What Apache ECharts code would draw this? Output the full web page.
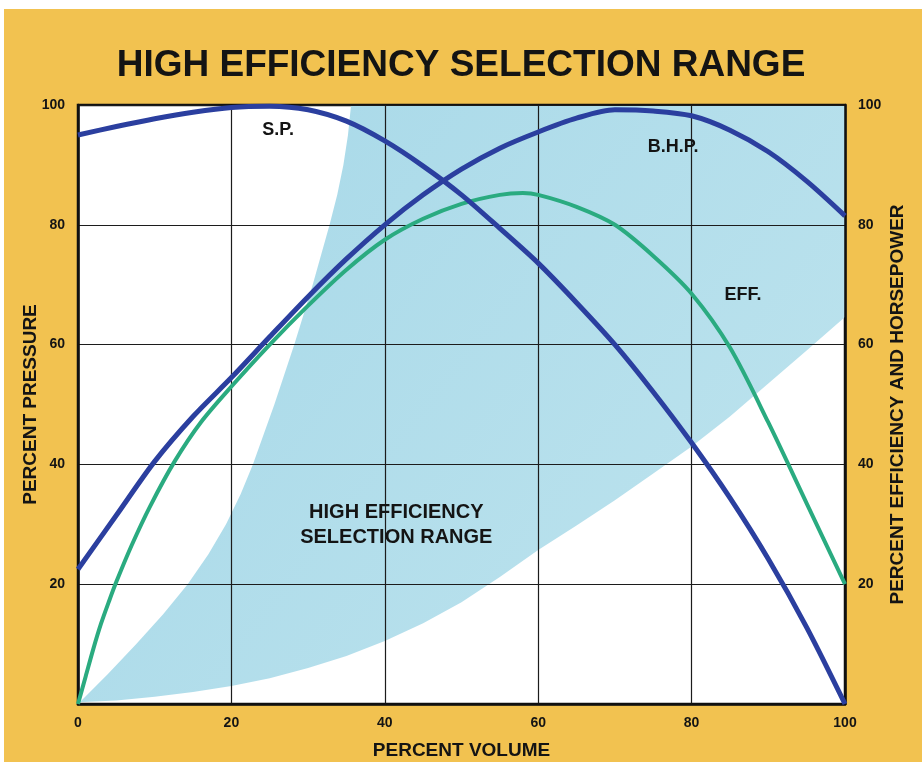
<!DOCTYPE html>
<html style="width:100%;height:100%">
<head>
    <meta charset="UTF-8">
    <title>High Efficiency Selection Range</title>
    <script type="text/javascript" src="https://cdn.jsdelivr.net/npm/echarts@6/dist/echarts.min.js"></script>
</head>
<body style="width:100%;height:100%;margin:0;overflow:hidden">
    <div id="main" style="width:922px;height:762px"></div>

    <script type="text/javascript">
        var myChart = echarts.init(document.getElementById('main'));

        // percent volume vs percent value
        var spData = [[0, 95], [5, 96.4], [10, 97.7], [15, 98.8], [20, 99.6], [25, 99.8], [30, 99.2], [35, 97.3],
            [40, 94], [45, 89.8], [50, 85], [55, 79.4], [60, 73.6], [65, 67], [70, 60], [75, 52.1], [80, 43.6],
            [85, 34.4], [90, 24.2], [95, 12.8], [100, 0]];
        var bhpData = [[0, 22.5], [5, 31.5], [10, 40.5], [15, 48], [20, 54.5], [25, 61.3], [30, 68], [35, 74.3],
            [40, 80], [45, 85], [50, 89.3], [55, 92.8], [60, 95.5], [65, 97.8], [70, 99.2], [75, 99.0], [80, 98.2],
            [85, 95.8], [90, 92.2], [95, 87.3], [100, 81.5]];
        var effData = [[0, 0], [1, 4.6], [2, 9.2], [3, 13.4], [4, 17], [5, 20.4], [7, 26.5], [9.4, 33], [12.6, 40.5],
            [16, 47], [20, 53], [25, 60], [30, 66.5], [35, 72.5], [40, 77.5], [45, 81], [50, 83.5], [55, 85],
            [58, 85.3], [60, 85], [65, 83], [70, 80], [75, 74.8], [80, 68.5], [85, 59.5], [90, 47], [95, 33.5],
            [100, 20]];

        // shaded range: lower edge (volume, value) left to right, left edge (volume, value) top to bottom
        var rangeLower = [[0, 0.3], [5, 0.6], [10, 1.2], [15, 2], [20, 3], [25, 4.3], [30, 6], [35, 8], [40, 10.5],
            [45, 13.5], [50, 17], [55, 21.2], [60, 25.7], [65, 29.8], [70, 34], [75, 38.5], [80, 43], [85, 48],
            [90, 53.5], [95, 59], [100, 64.6]];
        var rangeLeft = [[35.6, 100], [35.2, 95], [34.6, 90], [33.8, 85], [32.8, 80], [31.7, 75], [30.6, 70],
            [29.4, 65], [28.2, 60], [26.9, 55], [25.6, 50], [24.2, 45], [22.8, 40], [21.2, 35], [19.3, 30],
            [17.0, 25], [14.3, 20], [11.1, 15], [7.6, 10], [3.9, 5], [0, 0]];

        var curveLabels = [[26.1, 95.8, 'S.P.'], [77.6, 93, 'B.H.P.'], [86.7, 68.3, 'EFF.']];
        var rangeLabel = [[41.5, 29.9, 'HIGH EFFICIENCY\nSELECTION RANGE']];

        var axisTicks = [0, 20, 40, 60, 80, 100];

        var font = 'Liberation Sans, Arial, sans-serif';
        var ink = '#141414';
        var blue = '#2b3f9f';
        var green = '#2aab80';

        function sideAxis(name, position, gap, showSplit) {
            return {
                type: 'value',
                position: position,
                min: axisTicks[0],
                max: axisTicks[axisTicks.length - 1],
                interval: 20,
                z: 3,
                name: name,
                nameLocation: 'middle',
                nameRotate: 90,
                nameGap: gap,
                nameMoveOverlap: false,
                nameTextStyle: { fontSize: 19, fontWeight: 'bold', color: ink },
                axisLine: { show: true, lineStyle: { color: '#111', width: 2.5 } },
                axisTick: { show: false },
                axisLabel: {
                    margin: 13, fontSize: 14, fontWeight: 'bold', color: ink,
                    formatter: function (v) { return v === 0 ? '' : v; }
                },
                splitLine: { show: showSplit, lineStyle: { color: '#1c1c1c', width: 1.2 } }
            };
        }

        option = {
            backgroundColor: '#f2c250',
            animation: false,
            textStyle: { fontFamily: font },
            title: {
                text: 'HIGH EFFICIENCY SELECTION RANGE',
                left: 'center',
                top: 42,
                textStyle: { fontSize: 37, fontWeight: 'bold', color: ink, fontFamily: font }
            },
            graphic: [
                { type: 'rect', shape: { x: 0, y: 0, width: 922, height: 9 }, style: { fill: '#fff' } },
                { type: 'rect', shape: { x: 0, y: 0, width: 4, height: 762 }, style: { fill: '#fff' } }
            ],
            grid: {
                left: 78,
                right: 77,
                top: 105,
                bottom: 58,
                outerBoundsMode: 'none',
                show: true,
                backgroundColor: '#fff',
                borderColor: '#111',
                borderWidth: 2.5
            },
            xAxis: {
                type: 'value',
                min: axisTicks[0],
                max: axisTicks[axisTicks.length - 1],
                interval: 20,
                z: 3,
                name: 'PERCENT VOLUME',
                nameLocation: 'middle',
                nameGap: 37,
                nameMoveOverlap: false,
                nameTextStyle: { fontSize: 19, fontWeight: 'bold', color: ink },
                axisLine: { show: true, lineStyle: { color: '#111', width: 2.5 } },
                axisTick: { show: false },
                axisLabel: { margin: 12, fontSize: 14, fontWeight: 'bold', color: ink },
                splitLine: { show: true, lineStyle: { color: '#1c1c1c', width: 1.2 } }
            },
            yAxis: [
                sideAxis('PERCENT PRESSURE', 'left', 38, true),
                sideAxis('PERCENT EFFICIENCY AND HORSEPOWER', 'right', 43, false)
            ],
            series: [{
                type: 'custom',
                name: 'range',
                z: 1,
                silent: true,
                data: [0],
                renderItem: function (params, api) {
                    var outline = rangeLower.concat([[100, 100]], rangeLeft);
                    var pts = outline.map(function (p) { return api.coord(p); });
                    return {
                        type: 'polygon',
                        shape: { points: pts },
                        style: {
                            fill: new echarts.graphic.LinearGradient(0, 0, 1, 1, [
                                { offset: 0, color: '#a6d8e8' },
                                { offset: 1, color: '#bfe4ee' }
                            ])
                        }
                    };
                }
            }, {
                type: 'line',
                name: 'S.P.',
                z: 5,
                data: spData,
                smooth: 0.3,
                showSymbol: false,
                lineStyle: { color: blue, width: 5 }
            }, {
                type: 'line',
                name: 'B.H.P.',
                yAxisIndex: 1,
                z: 5,
                data: bhpData,
                smooth: 0.3,
                showSymbol: false,
                lineStyle: { color: blue, width: 5 }
            }, {
                type: 'line',
                name: 'EFF.',
                yAxisIndex: 1,
                z: 4,
                data: effData,
                smooth: 0.3,
                showSymbol: false,
                lineStyle: { color: green, width: 4 }
            }, {
                type: 'scatter',
                z: 6,
                silent: true,
                symbolSize: 0,
                itemStyle: { opacity: 1 },
                data: curveLabels,
                label: {
                    show: true,
                    position: 'inside',
                    formatter: function (p) { return p.data[2]; },
                    fontSize: 18,
                    fontWeight: 'bold',
                    color: ink
                }
            }, {
                type: 'scatter',
                z: 6,
                silent: true,
                symbolSize: 0,
                itemStyle: { opacity: 1 },
                data: rangeLabel,
                label: {
                    show: true,
                    position: 'inside',
                    align: 'center',
                    formatter: function (p) { return p.data[2]; },
                    fontSize: 20,
                    lineHeight: 25,
                    fontWeight: 'bold',
                    color: ink
                }
            }]
        };

        myChart.setOption(option);
    </script>
</body>
</html>
